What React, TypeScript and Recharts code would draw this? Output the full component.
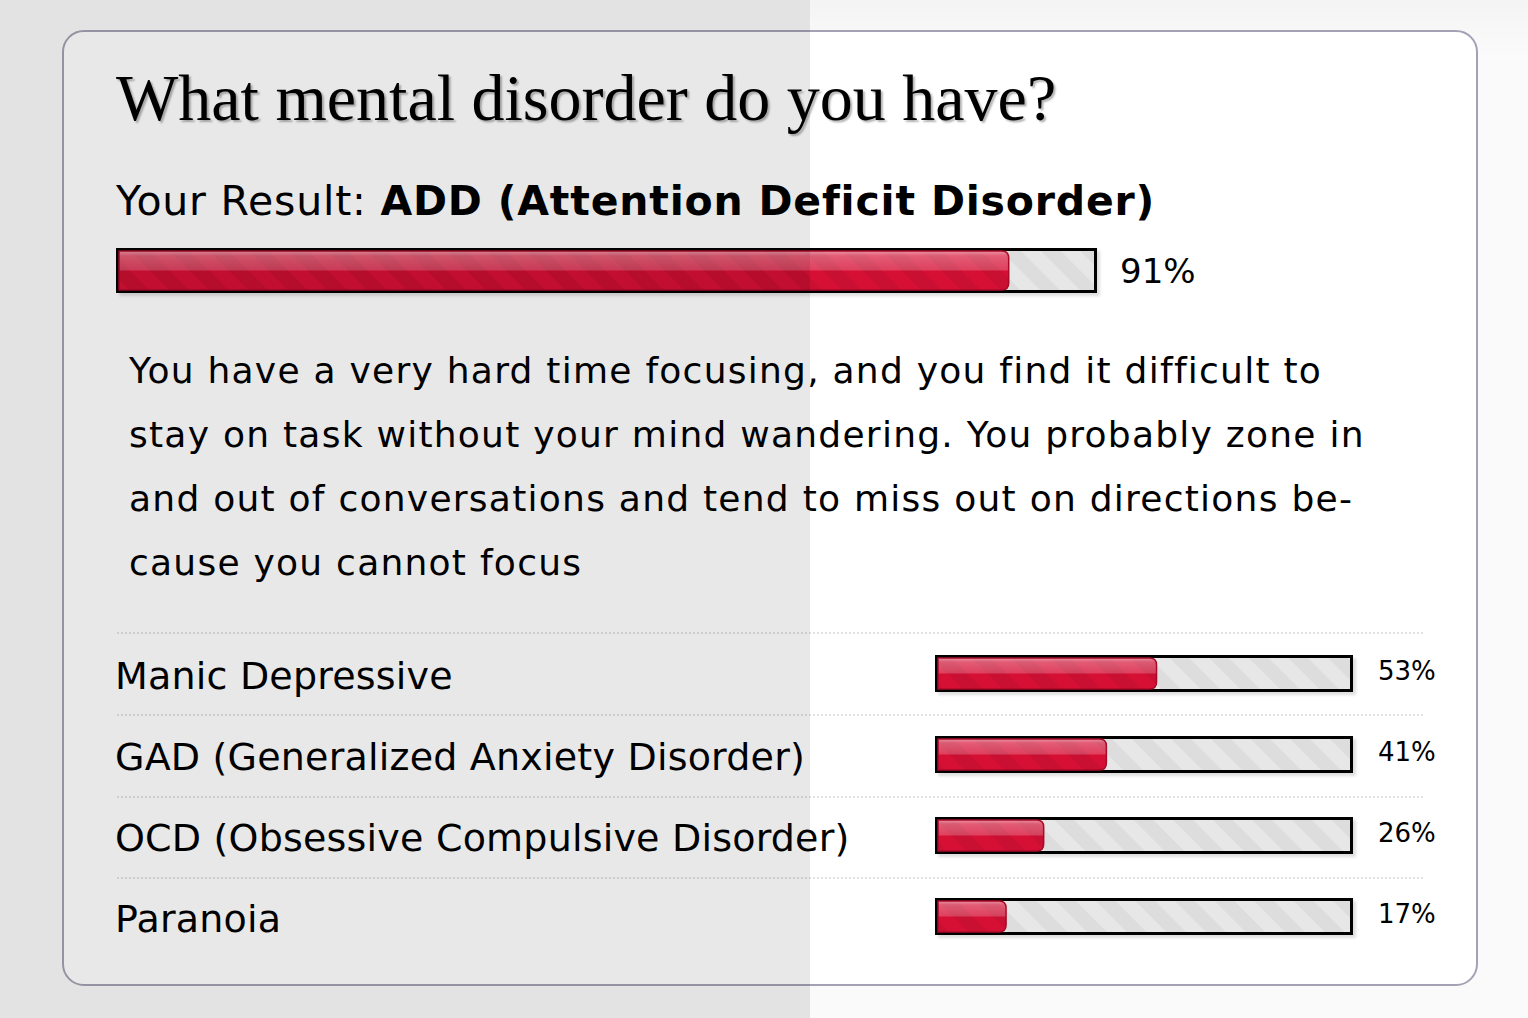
import React from 'react';
import { BarChart, Bar, XAxis, YAxis } from 'recharts';

// quiz result
const resultTitle = 'What mental disorder do you have?';
const resultName = 'ADD (Attention Deficit Disorder)';
const resultPercent = 91;
const descriptionLines = [
  'You have a very hard time focusing, and you find it difficult to',
  'stay on task without your mind wandering. You probably zone in',
  'and out of conversations and tend to miss out on directions be-',
  'cause you cannot focus',
];

// other results
const categories = [
  'Manic Depressive',
  'GAD (Generalized Anxiety Disorder)',
  'OCD (Obsessive Compulsive Disorder)',
  'Paranoia',
];
const percents = [53, 41, 26, 17];

const mainData = [{ name: resultName, value: resultPercent, pct: resultPercent }];
const rowData = categories.map((name, i) => ({ name, value: percents[i], pct: percents[i] }));

const FONT = '"DejaVu Sans", Verdana, sans-serif';

const TrackShape = (props: any) => {
  const { x, y, width, height } = props;
  return (
    <g>
      <rect x={x + 3} y={y + 3} width={width} height={height} fill="#000" opacity={0.13} filter="url(#softBlur)" />
      <rect x={x + 1.5} y={y + 1.5} width={width - 3} height={height - 3} fill="url(#trackStripes)" stroke="#000" strokeWidth={3} />
    </g>
  );
};

const RedBar = (props: any) => {
  const { x, y, width, height } = props;
  if (!width || width <= 4) return null;
  const x0 = x + 3;
  const y0 = y + 3;
  const w = width - 3;
  const h = height - 6;
  const r = 7;
  const id = `clip-${Math.round(y)}`;
  const d = `M${x0},${y0} H${x0 + w - r} Q${x0 + w},${y0} ${x0 + w},${y0 + r} V${y0 + h - r} Q${x0 + w},${y0 + h} ${x0 + w - r},${y0 + h} H${x0} Z`;
  return (
    <g>
      <path d={d} fill="#d61035" />
      <path d={d} fill="url(#redStripes)" />
      <clipPath id={id}>
        <path d={d} />
      </clipPath>
      <rect x={x0} y={y0} width={w} height={h / 2} fill="url(#gloss)" clipPath={`url(#${id})`} />
      <path d={d} fill="none" stroke="#a80a28" strokeWidth={1.5} />
    </g>
  );
};

const LeftTick = (props: any) => {
  const { y, payload } = props;
  return (
    <text x={0} y={y} dy={15} fontSize={38} fill="#000" fontFamily={FONT} letterSpacing={0.2}>
      {payload.value}
    </text>
  );
};

const makeRightTick = (size: number, dy: number) => (props: any) => {
  const { x, y, payload } = props;
  return (
    <text x={x} y={y} dy={dy} fontSize={size} fill="#000" fontFamily={FONT}>
      {payload.value}%
    </text>
  );
};

const SmallPct = makeRightTick(26, 6);
const BigPct = makeRightTick(34, 12);

const separatorYs = [633, 715, 797, 878];

export default function App() {
  return (
    <div style={{ position: 'fixed', left: 0, top: 0, width: 1528, height: 1018, background: '#fafafa', overflow: 'hidden', fontFamily: FONT }}>
      <svg width={0} height={0} style={{ position: 'absolute' }}>
        <defs>
          <pattern id="trackStripes" patternUnits="userSpaceOnUse" width={28} height={28} patternTransform="rotate(-45)">
            <rect width={28} height={28} fill="#e7e7e7" />
            <rect width={14} height={28} fill="#dddddd" />
          </pattern>
          <pattern id="redStripes" patternUnits="userSpaceOnUse" width={28} height={28} patternTransform="rotate(-45)">
            <rect width={14} height={28} fill="#000" opacity={0.06} />
          </pattern>
          <linearGradient id="gloss" x1="0" y1="0" x2="0" y2="1">
            <stop offset="0%" stopColor="#fff" stopOpacity={0.55} />
            <stop offset="25%" stopColor="#fff" stopOpacity={0.32} />
            <stop offset="100%" stopColor="#fff" stopOpacity={0.2} />
          </linearGradient>
          <filter id="softBlur" x="-10%" y="-50%" width="120%" height="200%">
            <feGaussianBlur stdDeviation={1.5} />
          </filter>
        </defs>
      </svg>

      <div style={{ position: 'absolute', left: 810, top: 0, width: 718, height: 60, background: 'linear-gradient(#f4f4f4, #fbfbfb)' }} />

      <div style={{ position: 'absolute', left: 62, top: 30, width: 1416, height: 956, boxSizing: 'border-box', border: '2px solid #a4a1b4', borderRadius: 22, background: '#fff' }} />

      <div style={{ position: 'absolute', left: 116, top: 65, fontFamily: '"Liberation Serif", "Times New Roman", serif', fontSize: 66, lineHeight: '66px', color: '#000', textShadow: '2px 2px 2px rgba(0,0,0,0.3)', whiteSpace: 'nowrap' }}>
        {resultTitle}
      </div>

      <div style={{ position: 'absolute', left: 116, top: 181, fontSize: 41, lineHeight: '41px', letterSpacing: 0.8, color: '#000', whiteSpace: 'nowrap' }}>
        Your Result: <b>{resultName}</b>
      </div>

      <div style={{ position: 'absolute', left: 116, top: 237 }}>
        <BarChart layout="vertical" width={1101} height={67} data={mainData} margin={{ top: 6, right: 0, bottom: 6, left: 0 }}>
          <XAxis type="number" domain={[0, 100]} hide />
          <YAxis type="category" dataKey="name" hide />
          <YAxis yAxisId="pct" orientation="right" type="category" dataKey="pct" width={120} axisLine={false} tickLine={false} tickSize={0} tickMargin={23} tick={<BigPct />} />
          <Bar dataKey="value" barSize={45} background={TrackShape} shape={RedBar} isAnimationActive={false} />
        </BarChart>
      </div>

      <div style={{ position: 'absolute', left: 129, top: 339, fontSize: 36, lineHeight: '64px', letterSpacing: 1.25, color: '#000', whiteSpace: 'nowrap' }}>
        {descriptionLines.map((l, i) => (
          <div key={i}>{l}</div>
        ))}
      </div>

      {separatorYs.map((y) => (
        <div key={y} style={{ position: 'absolute', left: 117, top: y - 1, width: 1306, borderTop: '2px dotted #e2e2e2' }} />
      ))}

      <div style={{ position: 'absolute', left: 115, top: 633 }}>
        <BarChart layout="vertical" width={1338} height={324} data={rowData} margin={{ top: 0, right: 0, bottom: 0, left: 0 }}>
          <XAxis type="number" domain={[0, 100]} hide />
          <YAxis type="category" dataKey="name" width={820} axisLine={false} tickLine={false} tick={<LeftTick />} />
          <YAxis yAxisId="pct" orientation="right" type="category" dataKey="pct" width={100} axisLine={false} tickLine={false} tickSize={0} tickMargin={25} tick={<SmallPct />} />
          <Bar dataKey="value" barSize={37} background={TrackShape} shape={RedBar} isAnimationActive={false} />
        </BarChart>
      </div>

      <div style={{ position: 'absolute', left: 0, top: 0, width: 810, height: 1018, background: 'rgba(0,0,0,0.09)', pointerEvents: 'none' }} />
    </div>
  );
}
